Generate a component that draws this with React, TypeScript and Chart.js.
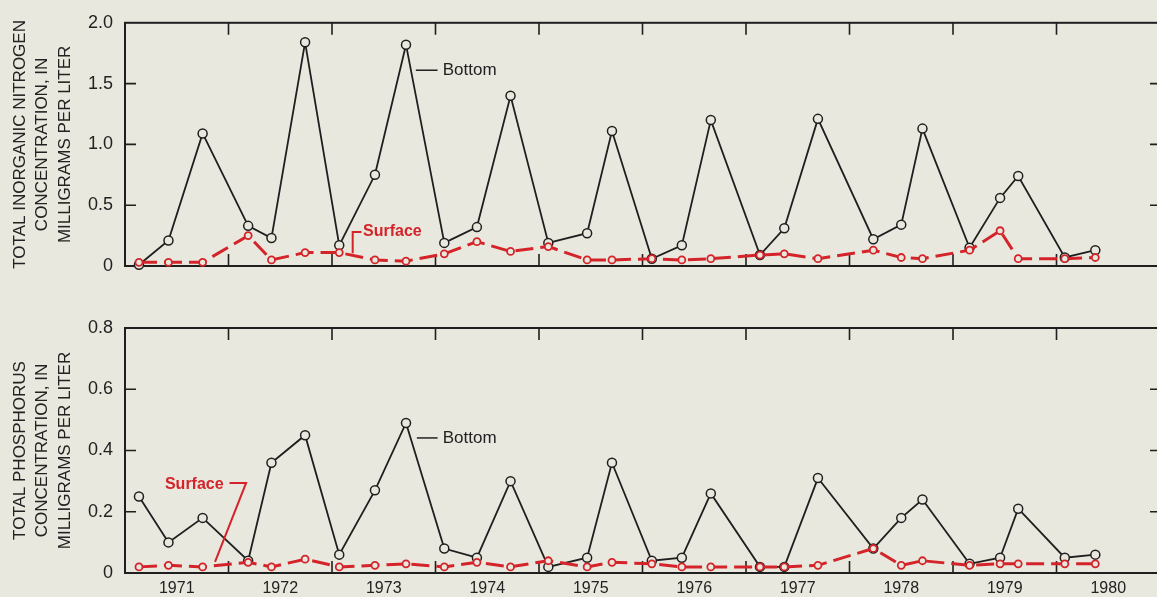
import React, { useEffect, useRef } from 'react';
import { Chart, registerables } from 'chart.js';

Chart.register(...registerables);

// ---------- data ----------
const sampleYears = [
  1971.135, 1971.42, 1971.75, 1972.19, 1972.415, 1972.74, 1973.07, 1973.415, 1973.715,
  1974.085, 1974.4, 1974.725, 1975.09, 1975.465, 1975.705, 1976.09, 1976.38, 1976.66,
  1977.135, 1977.37, 1977.695, 1978.23, 1978.5, 1978.705, 1979.16, 1979.455, 1979.63,
  1980.08, 1980.375,
];

const nitrogenBottom = [
  0.01, 0.21, 1.09, 0.33, 0.23, 1.84, 0.17, 0.75, 1.82, 0.19, 0.32, 1.4, 0.19, 0.27, 1.11,
  0.06, 0.17, 1.2, 0.09, 0.31, 1.21, 0.22, 0.34, 1.13, 0.15, 0.56, 0.74, 0.07, 0.13,
];
const nitrogenSurface = [
  0.03, 0.03, 0.03, 0.25, 0.05, 0.11, 0.11, 0.05, 0.04, 0.1, 0.2, 0.12, 0.16, 0.05, 0.05,
  0.06, 0.05, 0.06, 0.09, 0.1, 0.06, 0.13, 0.07, 0.06, 0.13, 0.29, 0.06, 0.06, 0.07,
];

const phosphorusBottom = [
  0.25, 0.1, 0.18, 0.04, 0.36, 0.45, 0.06, 0.27, 0.49, 0.08, 0.05, 0.3, 0.02, 0.05, 0.36,
  0.04, 0.05, 0.26, 0.02, 0.02, 0.31, 0.08, 0.18, 0.24, 0.03, 0.05, 0.21, 0.05, 0.06,
];
const phosphorusSurface = [
  0.02, 0.025, 0.02, 0.035, 0.02, 0.045, 0.02, 0.025, 0.03, 0.02, 0.035, 0.02, 0.04, 0.02,
  0.035, 0.03, 0.02, 0.02, 0.02, 0.02, 0.025, 0.08, 0.025, 0.04, 0.025, 0.03, 0.03, 0.03,
  0.03,
];

const yearLabels = ['1971', '1972', '1973', '1974', '1975', '1976', '1977', '1978', '1979', '1980'];
const nitrogenTicks = [0, 0.5, 1.0, 1.5, 2.0];
const phosphorusTicks = [0, 0.2, 0.4, 0.6, 0.8];

const nitrogenTitle = ['TOTAL INORGANIC NITROGEN', 'CONCENTRATION, IN', 'MILLIGRAMS PER LITER'];
const phosphorusTitle = ['TOTAL PHOSPHORUS', 'CONCENTRATION, IN', 'MILLIGRAMS PER LITER'];

// ---------- styles ----------
const PAPER = '#e8e8de';
const INK = '#1f1f1f';
const TEXT = '#222222';
const RED = '#d4242a';
const FONT = '"Liberation Sans", Arial, Helvetica, sans-serif';
const CANVAS_W = 1175;

type Note = {
  text: string;
  color: string;
  font: string;
  at: [number, number];
  leader: [number, number][];
  lineWidth: number;
};

const nitrogenNotes: Note[] = [
  {
    text: 'Bottom',
    color: TEXT,
    font: `17px ${FONT}`,
    at: [1974.07, 1.61],
    leader: [[1973.81, 1.61], [1974.02, 1.61]],
    lineWidth: 1.5,
  },
  {
    text: 'Surface',
    color: RED,
    font: `bold 16px ${FONT}`,
    at: [1973.3, 0.28],
    leader: [[1973.2, 0.104], [1973.2, 0.28], [1973.285, 0.28]],
    lineWidth: 2,
  },
];

const phosphorusNotes: Note[] = [
  {
    text: 'Bottom',
    color: TEXT,
    font: `17px ${FONT}`,
    at: [1974.07, 0.441],
    leader: [[1973.82, 0.441], [1974.02, 0.441]],
    lineWidth: 1.5,
  },
  {
    text: 'Surface',
    color: RED,
    font: `bold 16px ${FONT}`,
    at: [1971.386, 0.29],
    leader: [[1972.01, 0.294], [1972.17, 0.294], [1971.87, 0.036]],
    lineWidth: 2,
  },
];

type PanelProps = {
  top: number;
  height: number;
  padTop: number;
  xAxisHeight: number;
  yMax: number;
  yTicks: number[];
  title: string[];
  surface: number[];
  bottom: number[];
  notes: Note[];
  showYears: boolean;
};

function Panel(p: PanelProps) {
  const ref = useRef<HTMLCanvasElement>(null);

  useEffect(() => {
    const canvas = ref.current!;
    const overlay = {
      id: 'overlay',
      beforeDatasetsDraw(chart: any) {
        const { ctx, chartArea: a } = chart;
        const xs = chart.scales.x;
        const ys = chart.scales.y;
        ctx.save();
        ctx.strokeStyle = INK;
        ctx.lineWidth = 2;
        ctx.strokeRect(a.left, a.top, a.right - a.left, a.bottom - a.top);
        ctx.lineWidth = 1.6;
        ctx.beginPath();
        for (let yr = xs.min + 1; yr < xs.max; yr++) {
          const px = xs.getPixelForValue(yr);
          ctx.moveTo(px, a.top);
          ctx.lineTo(px, a.top + 12);
          ctx.moveTo(px, a.bottom);
          ctx.lineTo(px, a.bottom - 12);
        }
        ys.ticks.forEach((t: any) => {
          if (t.value <= ys.min || t.value >= ys.max) return;
          const py = ys.getPixelForValue(t.value);
          ctx.moveTo(a.left, py);
          ctx.lineTo(a.left + 11, py);
          ctx.moveTo(a.right, py);
          ctx.lineTo(a.right - 10, py);
        });
        ctx.stroke();
        ctx.restore();
      },
      afterDatasetsDraw(chart: any) {
        const { ctx } = chart;
        const xs = chart.scales.x;
        const ys = chart.scales.y;
        ctx.save();
        for (const n of p.notes) {
          ctx.strokeStyle = n.color;
          ctx.lineWidth = n.lineWidth;
          ctx.beginPath();
          n.leader.forEach(([lx, ly], i) => {
            const px = xs.getPixelForValue(lx);
            const py = ys.getPixelForValue(ly);
            if (i === 0) ctx.moveTo(px, py);
            else ctx.lineTo(px, py);
          });
          ctx.stroke();
          ctx.fillStyle = n.color;
          ctx.font = n.font;
          ctx.textAlign = 'left';
          ctx.textBaseline = 'middle';
          ctx.fillText(n.text, xs.getPixelForValue(n.at[0]), ys.getPixelForValue(n.at[1]));
        }
        ctx.restore();
      },
    };

    const chart = new Chart(canvas, {
      type: 'line',
      data: {
        datasets: [
          {
            label: 'Surface',
            data: sampleYears.map((x, i) => ({ x, y: p.surface[i] })),
            borderColor: RED,
            borderWidth: 3,
            borderDash: [18, 7],
            pointRadius: 3.5,
            pointBorderColor: RED,
            pointBackgroundColor: PAPER,
            pointBorderWidth: 1.8,
            tension: 0,
            clip: 12,
          },
          {
            label: 'Bottom',
            data: sampleYears.map((x, i) => ({ x, y: p.bottom[i] })),
            borderColor: INK,
            borderWidth: 1.8,
            pointRadius: 4.5,
            pointBorderColor: INK,
            pointBackgroundColor: PAPER,
            pointBorderWidth: 1.5,
            tension: 0,
            clip: 12,
          },
        ] as any,
      },
      options: {
        animation: false,
        responsive: false,
        maintainAspectRatio: false,
        layout: { padding: { left: 0, top: p.padTop, right: 15, bottom: 0 } },
        plugins: {
          legend: { display: false },
          tooltip: { enabled: false },
        },
        scales: {
          x: {
            type: 'linear',
            min: 1971,
            max: 1981,
            grid: { display: false, drawTicks: false },
            border: { display: false },
            afterBuildTicks: (s: any) => {
              s.ticks = yearLabels.map((l) => ({ value: Number(l) + 0.5 }));
            },
            ticks: {
              display: p.showYears,
              autoSkip: false,
              maxRotation: 0,
              padding: 6,
              color: TEXT,
              font: { family: FONT, size: 16 },
              callback: (_v: any, i: number) => yearLabels[i],
            },
            afterFit: (s: any) => {
              s.height = p.xAxisHeight;
            },
          },
          y: {
            type: 'linear',
            min: 0,
            max: p.yMax,
            grid: { display: false, drawTicks: false },
            border: { display: false },
            afterBuildTicks: (s: any) => {
              s.ticks = p.yTicks.map((v) => ({ value: v }));
            },
            ticks: {
              padding: 12,
              color: TEXT,
              font: { family: FONT, size: 18 },
              callback: (v: any) => (Number(v) === 0 ? '0' : Number(v).toFixed(1)),
            },
            title: {
              display: true,
              text: p.title,
              color: TEXT,
              font: { family: FONT, size: 17, lineHeight: '22.5px' } as any,
              padding: { top: 9, bottom: 0 },
            },
            afterFit: (s: any) => {
              s.width = 125;
            },
          },
        },
      } as any,
      plugins: [overlay],
    });
    return () => chart.destroy();
  }, []);

  return (
    <canvas
      ref={ref}
      width={CANVAS_W}
      height={p.height}
      style={{ position: 'absolute', left: 0, top: p.top, width: CANVAS_W, height: p.height }}
    />
  );
}

export default function App() {
  return (
    <div
      style={{
        position: 'fixed',
        left: 0,
        top: 0,
        width: 1157,
        height: 597,
        overflow: 'hidden',
        background: PAPER,
      }}
    >
      <Panel
        top={0}
        height={300}
        padTop={16}
        xAxisHeight={34}
        yMax={2}
        yTicks={nitrogenTicks}
        title={nitrogenTitle}
        surface={nitrogenSurface}
        bottom={nitrogenBottom}
        notes={nitrogenNotes}
        showYears={false}
      />
      <Panel
        top={300}
        height={297}
        padTop={28}
        xAxisHeight={24}
        yMax={0.8}
        yTicks={phosphorusTicks}
        title={phosphorusTitle}
        surface={phosphorusSurface}
        bottom={phosphorusBottom}
        notes={phosphorusNotes}
        showYears={true}
      />
    </div>
  );
}
